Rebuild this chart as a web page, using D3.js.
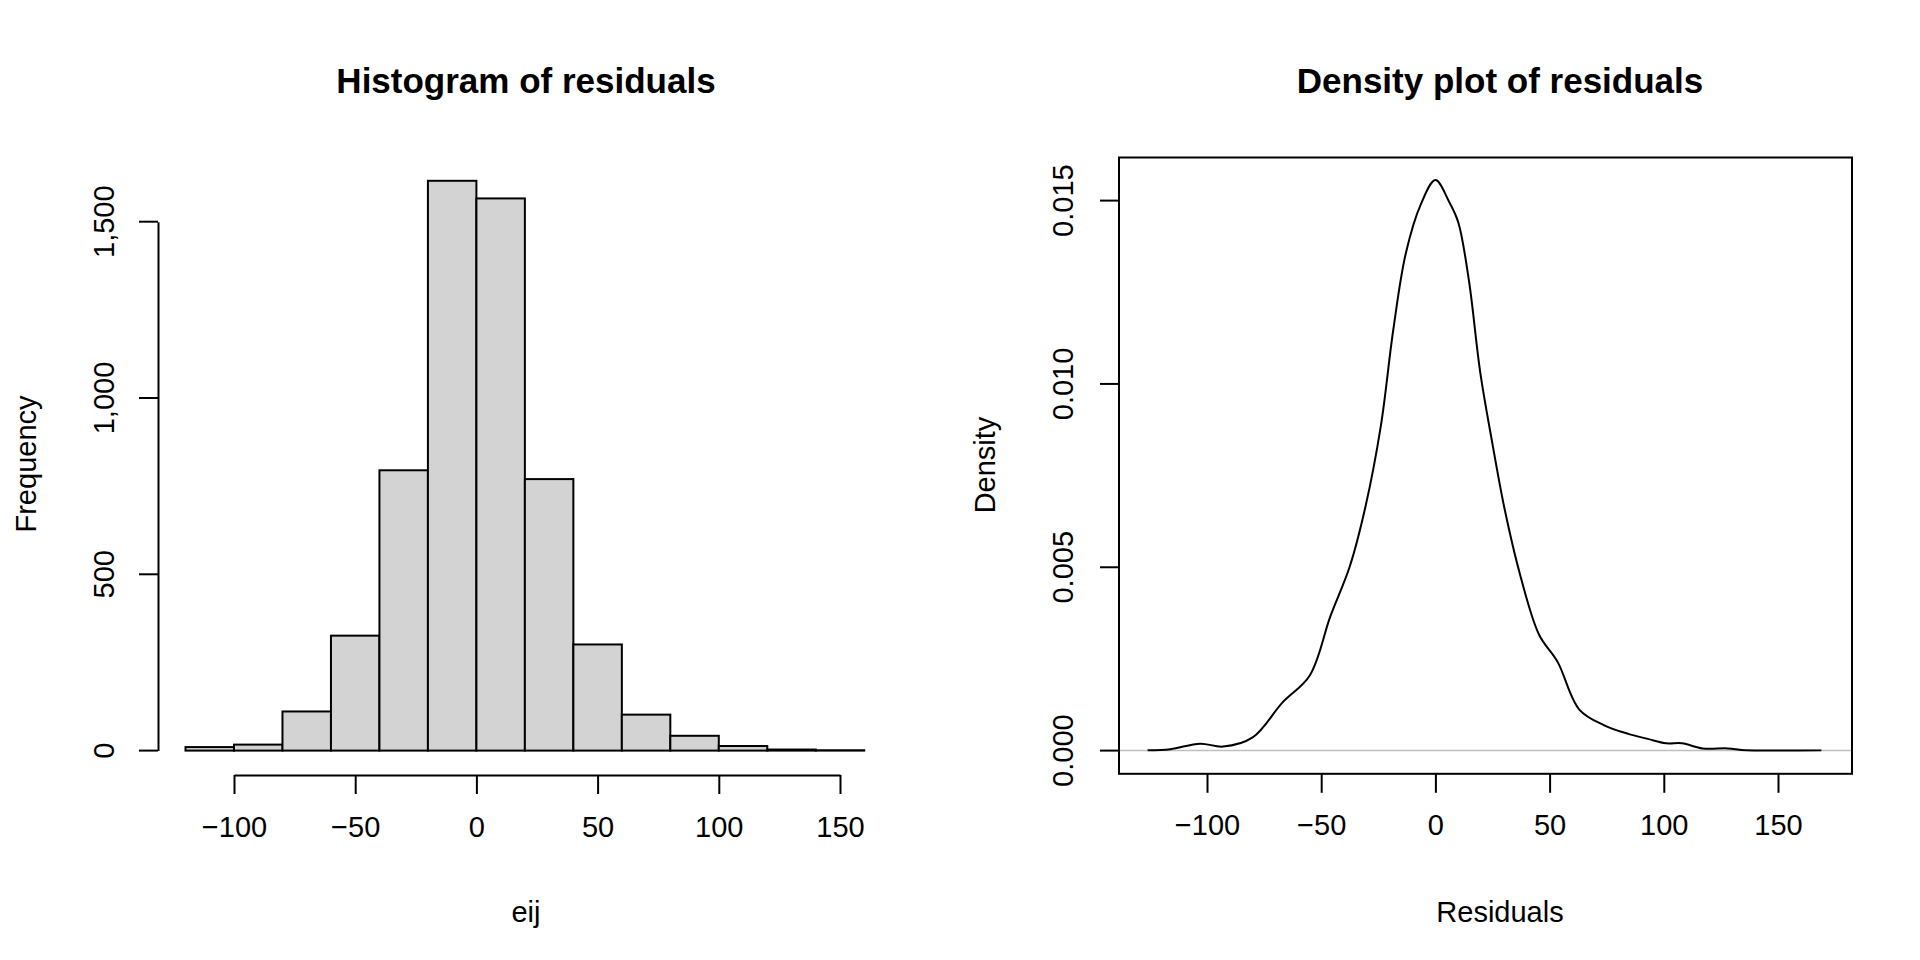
<!DOCTYPE html>
<html>
<head>
<meta charset="utf-8">
<script src="https://cdn.jsdelivr.net/npm/d3@7"></script>
<style>
  body { margin: 0; background: #fff; }
  text { font-family: "Liberation Sans", Arial, sans-serif; fill: #000; }
</style>
</head>
<body>
<svg id="chart" width="1920" height="960"></svg>
<script>
// histogram bins (lower edges, width 20) and counts
var binStarts = [-120, -100, -80, -60, -40, -20, 0, 20, 40, 60, 80, 100, 120, 140];
var binCounts = [10, 17, 111, 326, 795, 1616, 1566, 770, 301, 102, 42, 13, 3, 1];
var histXTicks = [-100, -50, 0, 50, 100, 150];
var histYTicks = [0, 500, 1000, 1500];

// density curve
var densX = [-126, -116, -103, -93, -80, -67, -55, -46, -37.5, -30.7, -23.9, -18.5, -13, -6.3, 0,
             6, 10, 14.7, 19.6, 25, 30.4, 37.2, 45.4, 53.5, 63, 73.9, 84.8, 93, 101, 108, 117, 128, 136, 169];
var densY = [0.00001, 0.00004, 0.00019, 0.00011, 0.00036, 0.00131, 0.00205, 0.00366, 0.00502, 0.00663,
             0.00885, 0.01145, 0.01355, 0.01491, 0.01556, 0.01497, 0.01441, 0.01281, 0.01033, 0.00836,
             0.00656, 0.00477, 0.00316, 0.00242, 0.00112, 0.00069, 0.00045, 0.00032, 0.0002, 0.0002,
             0.00006, 0.00006, 0.00001, 0.00001];
var densXTicks = [-100, -50, 0, 50, 100, 150];
var densYTicks = [0, 0.005, 0.010, 0.015];

var svg = d3.select("#chart");
var tickFont = 29, titleFont = 35;

function styleAxis(g) {
    g.selectAll("path, line").attr("stroke", "#000").attr("stroke-width", 2);
    g.selectAll("text").attr("font-size", tickFont).attr("fill", "#000");
}

// ---------- left: histogram ----------
var hx = d3.scaleLinear().domain([-100, 150]).range([234, 840]);
var hy = d3.scaleLinear().domain([0, 1500]).range([750.6, 221.7]);

svg.append("g").selectAll("rect")
    .data(binStarts)
    .enter().append("rect")
    .attr("x", function (d) { return hx(d); })
    .attr("width", function (d) { return hx(d + 20) - hx(d); })
    .attr("y", function (d, i) { return hy(binCounts[i]); })
    .attr("height", function (d, i) { return hy(0) - hy(binCounts[i]); })
    .attr("fill", "#d3d3d3")
    .attr("stroke", "#000")
    .attr("stroke-width", 2);

var hxAxis = svg.append("g")
    .attr("transform", "translate(0,775)")
    .call(d3.axisBottom(hx).tickValues(histXTicks).tickSize(19).tickPadding(22).tickSizeOuter(0));
styleAxis(hxAxis);

var hyAxis = svg.append("g")
    .attr("transform", "translate(158,0)")
    .call(d3.axisLeft(hy).tickValues(histYTicks).tickSize(19).tickSizeOuter(0));
styleAxis(hyAxis);
hyAxis.selectAll("text")
    .attr("text-anchor", "middle")
    .attr("transform", function (d) { return "translate(-54," + (hy(d)) + ") rotate(-90)"; })
    .attr("x", 0).attr("y", 0).attr("dy", "0.35em");
hyAxis.selectAll(".tick").attr("transform", null);
hyAxis.selectAll(".tick line").attr("transform", function (d) { return "translate(0," + hy(d) + ")"; });

svg.append("text").attr("x", 526).attr("y", 93).attr("text-anchor", "middle")
    .attr("font-size", titleFont).attr("font-weight", "bold").text("Histogram of residuals");
svg.append("text").attr("x", 526).attr("y", 922).attr("text-anchor", "middle")
    .attr("font-size", tickFont).text("eij");
svg.append("text").attr("transform", "translate(36,464) rotate(-90)").attr("text-anchor", "middle")
    .attr("font-size", tickFont).text("Frequency");

// ---------- right: density ----------
var box = { left: 1119, right: 1852, top: 157.5, bottom: 773.8 };
var dx = d3.scaleLinear().domain([-100, 150]).range([1207, 1778]);
var dy = d3.scaleLinear().domain([0, 0.015]).range([750.6, 200.6]);

svg.append("line")
    .attr("x1", box.left).attr("x2", box.right)
    .attr("y1", dy(0)).attr("y2", dy(0))
    .attr("stroke", "#bebebe").attr("stroke-width", 1.5);

var dens = densX.map(function (v, i) { return [v, densY[i]]; });
svg.append("path")
    .attr("d", d3.line()
        .curve(d3.curveCatmullRom)
        .x(function (d) { return dx(d[0]); })
        .y(function (d) { return dy(d[1]); })(dens))
    .attr("fill", "none").attr("stroke", "#000").attr("stroke-width", 2);

svg.append("rect")
    .attr("x", box.left).attr("y", box.top)
    .attr("width", box.right - box.left).attr("height", box.bottom - box.top)
    .attr("fill", "none").attr("stroke", "#000").attr("stroke-width", 2);

var dxAxis = svg.append("g")
    .attr("transform", "translate(0," + box.bottom + ")")
    .call(d3.axisBottom(dx).tickValues(densXTicks).tickSize(19).tickPadding(22).tickSizeOuter(0));
styleAxis(dxAxis);
dxAxis.select(".domain").remove();

var dyAxis = svg.append("g")
    .attr("transform", "translate(" + box.left + ",0)")
    .call(d3.axisLeft(dy).tickValues(densYTicks).tickSize(19).tickSizeOuter(0)
        .tickFormat(d3.format(".3f")));
styleAxis(dyAxis);
dyAxis.select(".domain").remove();
dyAxis.selectAll(".tick").attr("transform", null);
dyAxis.selectAll(".tick line").attr("transform", function (d) { return "translate(0," + dy(d) + ")"; });
dyAxis.selectAll("text")
    .attr("text-anchor", "middle")
    .attr("transform", function (d) { return "translate(-56," + dy(d) + ") rotate(-90)"; })
    .attr("x", 0).attr("y", 0).attr("dy", "0.35em");

svg.append("text").attr("x", 1500).attr("y", 93).attr("text-anchor", "middle")
    .attr("font-size", titleFont).attr("font-weight", "bold").text("Density plot of residuals");
svg.append("text").attr("x", 1500).attr("y", 922).attr("text-anchor", "middle")
    .attr("font-size", tickFont).text("Residuals");
svg.append("text").attr("transform", "translate(995,465) rotate(-90)").attr("text-anchor", "middle")
    .attr("font-size", tickFont).text("Density");
</script>
</body>
</html>
